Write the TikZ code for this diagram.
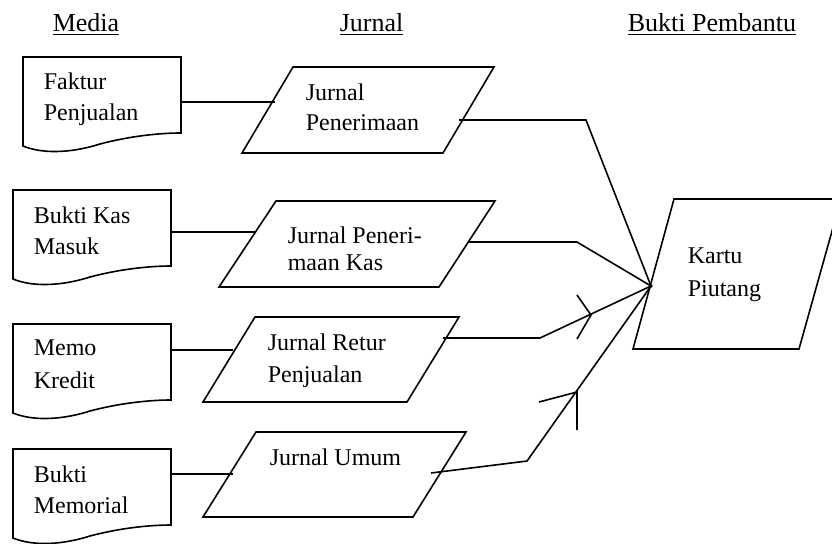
\documentclass[tikz,border=0pt]{standalone}
\usepackage{fontspec}
\setmainfont{Liberation Serif}
\begin{document}
\begin{tikzpicture}[x=0.5pt,y=-0.5pt, line width=0.8pt, line join=miter,
  lbl/.style={anchor=base west, inner sep=0pt, font=\fontsize{12}{14}\selectfont},
  head/.style={anchor=base west, inner sep=0pt, font=\fontsize{13}{15}\selectfont},
  link/.style={draw, line width=0.8pt},
  docshape/.pic={
    \draw (0,0) -- (158,0) -- (158,76)
      .. controls (137,76) and (107,79) .. (77,87)
      .. controls (52,95) and (22,98) .. (0,89) -- cycle;
  }
]
\useasboundingbox (0,0) rectangle (832,543);

% column headings
\node[head] (hMedia)  at (52,31)  {\underline{Media}};
\node[head] (hJurnal) at (339,31) {\underline{Jurnal}};
\node[head] (hBukti)  at (627,31) {\underline{Bukti Pembantu}};

% source documents
\pic (d1) at (23,57)  {docshape};
\pic (d2) at (13,190) {docshape};
\pic (d3) at (13,324) {docshape};
\pic (d4) at (13,449) {docshape};

\node[lbl] (d1a) at (43,89)  {Faktur};
\node[lbl] (d1b) at (43,120) {Penjualan};
\node[lbl] (d2a) at (33,223) {Bukti Kas};
\node[lbl] (d2b) at (33,254) {Masuk};
\node[lbl] (d3a) at (33,355) {Memo};
\node[lbl] (d3b) at (33,388) {Kredit};
\node[lbl] (d4a) at (33,482) {Bukti};
\node[lbl] (d4b) at (33,513) {Memorial};

% journals
\draw (293,67) -- (494,67) -- (443,153) -- (242,153) -- cycle;
\draw (276,201) -- (495,201) -- (439,287) -- (219,287) -- cycle;
\draw (255,317) -- (459,317) -- (407,402) -- (203,402) -- cycle;
\draw (256,432) -- (466,432) -- (413,517) -- (203,517) -- cycle;

\node[lbl] (j1a) at (305,100) {Jurnal};
\node[lbl] (j1b) at (305,130) {Penerimaan};
\node[lbl] (j2a) at (287,243) {Jurnal Peneri-};
\node[lbl] (j2b) at (287,270) {maan Kas};
\node[lbl] (j3a) at (267,350) {Jurnal Retur};
\node[lbl] (j3b) at (267,382) {Penjualan};
\node[lbl] (j4a) at (269,465) {Jurnal Umum};

% subsidiary ledger
\draw (674,199) -- (841,199) -- (799,349) -- (633,349) -- cycle;
\node[lbl] (k1) at (687,263) {Kartu};
\node[lbl] (k2) at (687,296) {Piutang};

% connection points
\coordinate (K) at (651,286);
\coordinate (d1out) at (181,102); \coordinate (j1in) at (275,102);
\coordinate (d2out) at (172,232); \coordinate (j2in) at (256,232);
\coordinate (d3out) at (172,350); \coordinate (j3in) at (233,350);
\coordinate (d4out) at (172,474); \coordinate (j4in) at (233,474);
\coordinate (j1out) at (459,120);
\coordinate (j2out) at (468,242);
\coordinate (j3out) at (443,338);
\coordinate (j4out) at (431,473);

% document to journal
\draw[link] (d1out) -- (j1in);
\draw[link] (d2out) -- (j2in);
\draw[link] (d3out) -- (j3in);
\draw[link] (d4out) -- (j4in);

% journal to ledger
\draw[link] (j1out) -- (586,120) -- (K);
\draw[link] (j2out) -- (577,242) -- (K);
\draw[link] (j3out) -- (540,338) -- (K);
\draw[link] (j4out) -- (527,461) -- (K);
\fill (K) circle (1.8);

% direction marks
\draw[link] (577,295) -- (591,315) -- (577,339);
\draw[link] (539,402) -- (577,392) -- (577,430);
\end{tikzpicture}
\end{document}
